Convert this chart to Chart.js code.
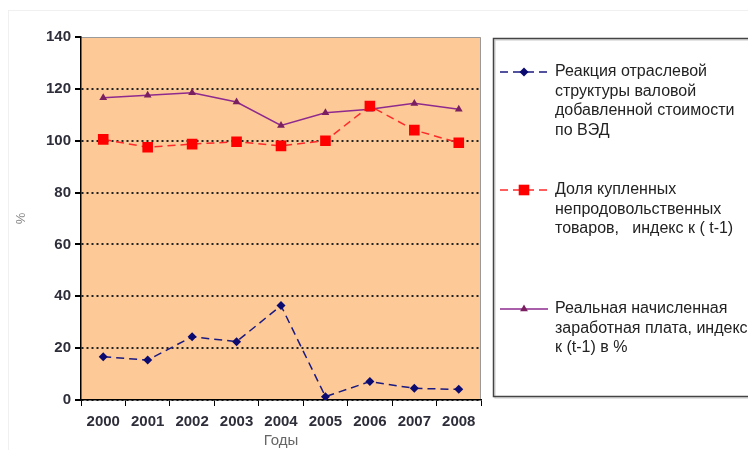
<!DOCTYPE html>
<html>
<head>
<meta charset="utf-8">
<script src="https://cdn.jsdelivr.net/npm/chart.js@4.4.1/dist/chart.umd.min.js"></script>
<style>
  html, body { margin: 0; padding: 0; background: #fff; }
  #wrap { width: 748px; height: 450px; position: relative; }
</style>
</head>
<body>
<div id="wrap"><canvas id="chart"></canvas></div>
<script>
// === Данные ===
const years = ['2000','2001','2002','2003','2004','2005','2006','2007','2008'];
const reaction = [16.7, 15.4, 24.4, 22.5, 36.4, 1.3, 7.1, 4.5, 4.1];
const goodsShare = [100.5, 97.5, 98.7, 99.6, 98.0, 100.0, 113.4, 104.1, 99.2];
const realWage = [116.6, 117.5, 118.5, 114.9, 105.9, 110.8, 112.1, 114.4, 112.1];
const yTicks = [0, 20, 40, 60, 80, 100, 120, 140];

const legendItems = [
  { lines: ['Реакция отраслевой', 'структуры валовой', 'добавленной стоимости', 'по ВЭД'], y: 72 },
  { lines: ['Доля купленных', 'непродовольственных', 'товаров,   индекс к ( t-1)'], y: 190 },
  { lines: ['Реальная начисленная', 'заработная плата, индекс', 'к (t-1) в %'], y: 309 }
];

const FONT = '"Liberation Sans", Arial, sans-serif';
Chart.defaults.font.family = FONT;
Chart.defaults.color = '#333';

// === фон области построения и рамка ===
const plotBg = {
  id: 'plotBg',
  beforeDraw(chart) {
    const { ctx, chartArea: a } = chart;
    ctx.save();
    ctx.strokeStyle = '#f0f0f0';
    ctx.strokeRect(8.5, 10.5, 760, 460);
    ctx.fillStyle = '#fdc997';
    ctx.fillRect(a.left, a.top, a.right - a.left, a.bottom - a.top);
    ctx.strokeStyle = '#9a9a9a';
    ctx.lineWidth = 1;
    ctx.beginPath();
    ctx.moveTo(a.left, a.top + 0.5);
    ctx.lineTo(a.right - 0.5, a.top + 0.5);
    ctx.lineTo(a.right - 0.5, a.bottom);
    ctx.stroke();
    ctx.restore();
  }
};

// === легенда справа ===
const sideLegend = {
  id: 'sideLegend',
  afterDraw(chart) {
    const { ctx } = chart;
    ctx.save();
    ctx.strokeStyle = '#c8c8c8';
    ctx.lineWidth = 1;
    ctx.strokeRect(495, 40, 270, 358);
    ctx.strokeStyle = '#444';
    ctx.lineWidth = 1.5;
    ctx.strokeRect(493.5, 38.5, 270, 358);
    chart.data.datasets.forEach((ds, i) => {
      const it = legendItems[i];
      ctx.strokeStyle = ds.borderColor;
      ctx.lineWidth = ds.borderWidth;
      ctx.setLineDash(ds.borderDash || []);
      ctx.beginPath();
      ctx.moveTo(500, it.y);
      ctx.lineTo(548, it.y);
      ctx.stroke();
      ctx.setLineDash([]);
      ctx.fillStyle = ds.pointBackgroundColor;
      Chart.helpers.drawPoint(ctx, {
        pointStyle: ds.pointStyle, radius: ds.pointRadius, borderWidth: 0, rotation: 0
      }, 524, it.y);
      ctx.fillStyle = '#222';
      ctx.font = '16px ' + FONT;
      ctx.textBaseline = 'middle';
      it.lines.forEach((t, k) => ctx.fillText(t, 555, it.y + k * 19.5));
    });
    ctx.restore();
  }
};

new Chart(document.getElementById('chart'), {
  type: 'line',
  data: {
    labels: years,
    datasets: [
      { label: 'Реакция отраслевой структуры валовой добавленной стоимости по ВЭД', data: reaction,
        borderColor: '#1a1a80', borderWidth: 1.5, borderDash: [8, 5],
        pointStyle: 'rectRot', pointRadius: 4.5, pointBackgroundColor: '#0a0a70', pointBorderWidth: 0 },
      { label: 'Доля купленных непродовольственных товаров, индекс к ( t-1)', data: goodsShare,
        borderColor: '#ff2a2a', borderWidth: 1.5, borderDash: [8, 5],
        pointStyle: 'rect', pointRadius: 7.5, pointBackgroundColor: '#ff0000', pointBorderWidth: 0 },
      { label: 'Реальная начисленная заработная плата, индекс к (t-1) в %', data: realWage,
        borderColor: '#8e2a8e', borderWidth: 1.5,
        pointStyle: 'triangle', pointRadius: 4.5, pointBackgroundColor: '#7a1f60', pointBorderWidth: 0 }
    ]
  },
  options: {
    responsive: true,
    maintainAspectRatio: false,
    animation: false,
    layout: { padding: { left: 14, right: 267, top: 37, bottom: 0 } },
    plugins: { legend: { display: false }, tooltip: { enabled: false } },
    scales: {
      x: {
        offset: true,
        grid: { offset: true, drawOnChartArea: false, tickLength: 6, tickColor: '#000', color: '#000' },
        border: { color: '#000', width: 1.5 },
        ticks: { font: { size: 15, weight: 'bold' }, color: '#2e2e3a', padding: 7 },
        title: { display: true, text: 'Годы', color: '#666', font: { size: 15 }, padding: { top: 0, bottom: 0 } },
        afterFit: s => { s.height = 50; }
      },
      y: {
        min: 0, max: 140,
        afterBuildTicks: s => { s.ticks = yTicks.map(v => ({ value: v })); },
        grid: {
          color: c => (c.tick && c.tick.value === 140) ? 'rgba(0,0,0,0)' : '#222',
          lineWidth: 2, tickLength: 6, tickColor: '#000'
        },
        border: { color: '#000', width: 1.5, dash: [2, 3] },
        ticks: { font: { size: 15, weight: 'bold' }, color: '#2e2e3a', padding: 4 },
        title: { display: true, text: '%', color: '#888', font: { size: 13 }, padding: { top: 0, bottom: 0 } },
        afterFit: s => { s.width = 67; }
      }
    }
  },
  plugins: [plotBg, sideLegend]
});
</script>
</body>
</html>
